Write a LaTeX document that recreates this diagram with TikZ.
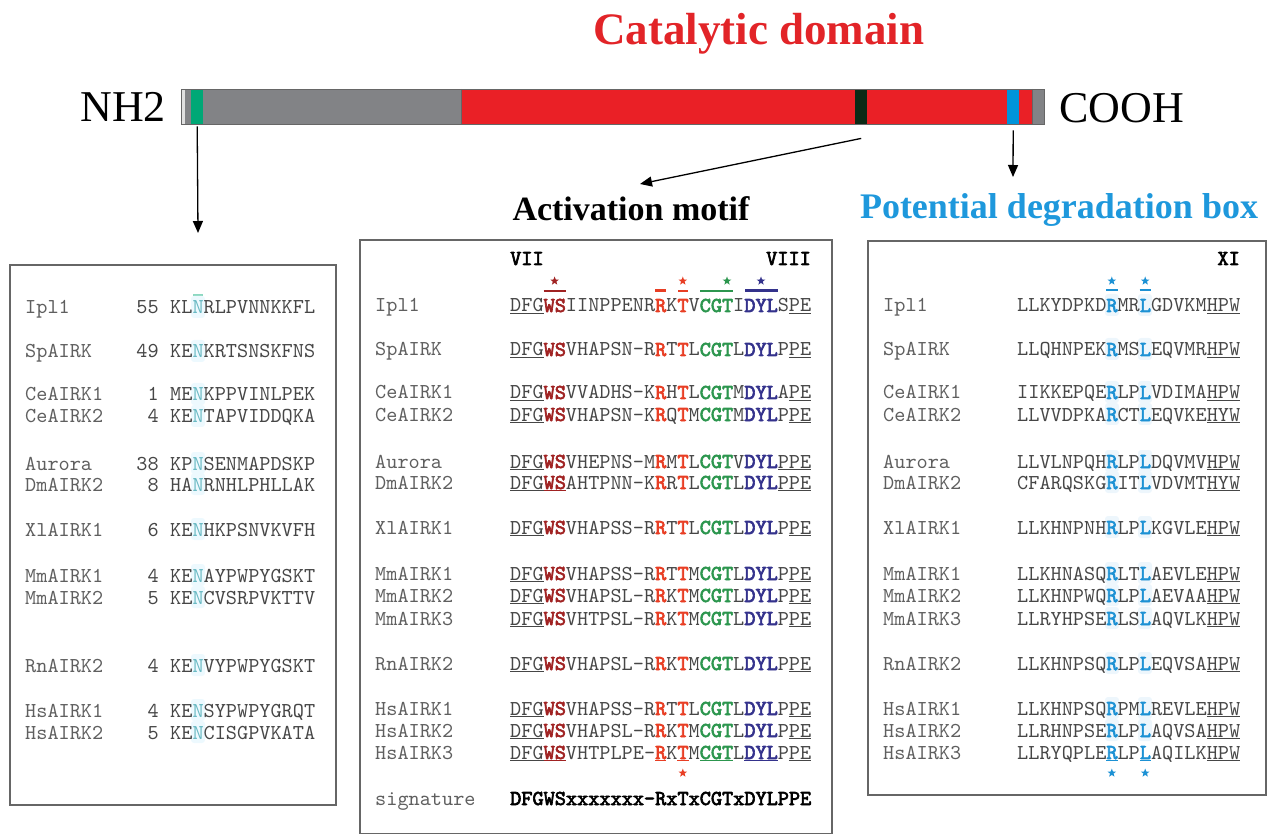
\documentclass[tikz,border=0pt]{standalone}
\usepackage{fontspec}
\setmainfont{Liberation Serif}
\setmonofont{lmmono10-regular.otf}[BoldFont=lmmono10-regular.otf, BoldFeatures={FakeBold=3}]
\usetikzlibrary{arrows.meta, positioning, shapes.geometric}

\definecolor{barred}{RGB}{234,32,38}
\definecolor{bargray}{RGB}{130,131,134}
\definecolor{bargreen}{RGB}{0,168,118}
\definecolor{bardark}{RGB}{12,42,22}
\definecolor{barblue}{RGB}{0,148,218}
\definecolor{titlered}{RGB}{226,36,40}
\definecolor{degblue}{RGB}{30,152,220}
\definecolor{seqgray}{RGB}{70,70,70}
\definecolor{namegray}{RGB}{95,95,95}
\definecolor{wsred}{RGB}{160,34,34}
\definecolor{rtred}{RGB}{232,62,36}
\definecolor{cgtgreen}{RGB}{44,150,78}
\definecolor{dylblue}{RGB}{52,50,140}
\definecolor{nteal}{RGB}{105,185,195}
\definecolor{rlblue}{RGB}{28,145,212}

\newcommand{\ulin}[1]{\underline{#1}}
\newcommand{\culin}[2]{\textcolor{#1}{\underline{\textbf{#2}}}}
\newcommand{\mWS}[1]{\textcolor{wsred}{\textbf{#1}}}
\newcommand{\mRT}[1]{\textcolor{rtred}{\textbf{#1}}}
\newcommand{\mCGT}[1]{\textcolor{cgtgreen}{\textbf{#1}}}
\newcommand{\mDYL}[1]{\textcolor{dylblue}{\textbf{#1}}}
\newcommand{\mRL}[1]{\textcolor{rlblue}{\textbf{#1}}}
\newcommand{\mN}[1]{\textcolor{nteal}{#1}}

\begin{document}
\begin{tikzpicture}[x=1pt, y=-1pt, font=\ttfamily\fontsize{21.24}{24}\selectfont]
		\tikzstyle{seqbox} = [draw=black!60, line width=1.4pt]
		\tikzstyle{nametxt} = [anchor=base west, inner sep=0pt, yshift=-1pt, text=namegray]
		\tikzstyle{seqtxt} = [anchor=base west, inner sep=0pt, yshift=-1pt, text=seqgray]
		\tikzstyle{numtxt} = [anchor=base east, inner sep=0pt, yshift=-1pt, text=seqgray]
		\tikzstyle{romantxt} = [inner sep=0pt, font=\ttfamily\bfseries\fontsize{21.24}{24}\selectfont]
		\tikzstyle{band} = [rectangle, inner sep=0pt, minimum width=12pt, minimum height=35pt, anchor=north west]
		\tikzstyle{motifstar} = [star, star points=5, star point ratio=2.4, inner sep=0pt, minimum size=9pt]
		\tikzstyle{arrow} = [line width=1.3pt, -{Triangle[length=12pt, width=10pt]}]
		
		\useasboundingbox (0,0) rectangle (1270,834);
		
		% protein bar
		\fill[bargray] (181,89) rectangle (1044,124);
		\fill[black!12] (181,89) rectangle (184.5,124);
		\fill[barred] (461,89) rectangle (1032,124);
		\node (ntband) [band, fill=bargreen] at (191,89) {};
		\node (actband) [band, fill=bardark] at (855,89) {};
		\node (degband) [band, fill=barblue] at (1007,89) {};
		\draw[black!60, line width=0.8pt] (181,89) rectangle (1044,124);
		\draw[black!60, line width=0.8pt] (461,89) -- (461,124) (1032,89) -- (1032,124);
		
		\node (nh) [anchor=base east, inner sep=0pt, font=\rmfamily\fontsize{44}{50}\selectfont] at (166,122) {NH2};
		\node (cooh) [anchor=base west, inner sep=0pt, font=\rmfamily\fontsize{44}{50}\selectfont] at (1059,123) {COOH};
		\node (catdom) [anchor=base west, inner sep=0pt, text=titlered, font=\rmfamily\bfseries\fontsize{45}{50}\selectfont] at (593,45) {Catalytic domain};
		\node (actmotif) [anchor=base, inner sep=0pt, font=\rmfamily\bfseries\fontsize{34}{40}\selectfont] at (631,221) {Activation motif};
		\node (degbox) [anchor=base, inner sep=0pt, text=degblue, font=\rmfamily\bfseries\fontsize{36}{40}\selectfont] at (1059,219) {Potential degradation box};
		
		\coordinate (ntend) at (198,233);
		\coordinate (actend) at (640,184);
		\coordinate (degend) at (1013,177);
		\draw[arrow] ([yshift=-2pt]ntband.south) -- (ntend);
		\draw[arrow] ([yshift=-14pt]actband.south) -- (actend);
		\draw[arrow] ([yshift=-6pt]degband.south) -- (degend);
		
		% alignment boxes
		\draw[seqbox] (10,265) rectangle (336,805);
		\draw[seqbox] (360,240) rectangle (832,833.3);
		\draw[seqbox] (868,241) rectangle (1266,795);
		
		% N-terminal box
		\draw[bargreen!45, line width=1.5pt] (193,295) -- (203,295);
		\foreach \y/\nm/\num/\pa/\pb in {313/Ipl1/55/KL/RLPVNNKKFL, 357/SpAIRK/49/KE/KRTSNSKFNS, 400/CeAIRK1/1/ME/KPPVINLPEK, 422/CeAIRK2/4/KE/TAPVIDDQKA, 469/Aurora/38/KP/SENMAPDSKP, 490/DmAIRK2/8/HA/RNHLPHLLAK, 535/XlAIRK1/6/KE/HKPSNVKVFH, 581/MmAIRK1/4/KE/AYPWPYGSKT, 603/MmAIRK2/5/KE/CVSRPVKTTV, 671/RnAIRK2/4/KE/VYPWPYGSKT, 716/HsAIRK1/4/KE/SYPWPYGRQT, 738/HsAIRK2/5/KE/CISGPVKATA}
		{
			\fill[cyan!7, rounded corners=3pt] (191,\y-17) rectangle (205,\y+5);
			\node (ln-\nm) [nametxt] at (25,\y) {\nm};
			\node (lk-\nm) [numtxt] at (159,\y) {\num};
			\node (ls-\nm) [seqtxt] at (170,\y) {\pa\mN{N}\pb};
		}
		
		% activation motif box
		\node (vii) [romantxt, anchor=base west] at (510,265) {VII};
		\node (viii) [romantxt, anchor=base east] at (811,265) {VIII};
		\node (st-ws) [motifstar, fill=wsred] at (554.6,281) {};
		\node (st-t) [motifstar, fill=rtred] at (682.8,281) {};
		\node (st-cgt) [motifstar, fill=cgtgreen] at (727,281) {};
		\node (st-dyl) [motifstar, fill=dylblue] at (761,281) {};
		\draw[wsred, line width=1.2pt] (543.5,291) -- (566,291);
		\draw[rtred, line width=3pt] (655,291) -- (666,291);
		\draw[rtred, line width=1.2pt] (678,291) -- (688,291);
		\draw[cgtgreen, line width=1.2pt] (700,291) -- (733,291);
		\draw[dylblue, line width=3pt] (745,291) -- (778,291);
		\foreach \y/\nm/\pa/\pb/\pc/\pd/\pe/\pf in {311/Ipl1/IINPPENR/K/V/I/S/PE, 355/SpAIRK/VHAPSN-R/T/L/L/P/PE, 398/CeAIRK1/VVADHS-K/H/L/M/A/PE, 420/CeAIRK2/VHAPSN-K/Q/M/M/P/PE, 467/Aurora/VHEPNS-M/M/L/V//PPE, 533/XlAIRK1/VHAPSS-R/T/L/L/P/PE, 579/MmAIRK1/VHAPSS-R/T/M/L/P/PE, 601/MmAIRK2/VHAPSL-R/K/M/L/P/PE, 624/MmAIRK3/VHTPSL-R/K/M/L/P/PE, 669/RnAIRK2/VHAPSL-R/K/M/L/P/PE, 714/HsAIRK1/VHAPSS-R/T/L/L/P/PE, 736/HsAIRK2/VHAPSL-R/K/M/L/P/PE}
		{
			\node (mn-\nm) [nametxt] at (375,\y) {\nm};
			\node (ms-\nm) [seqtxt] at (510,\y) {\ulin{DFG}\mWS{WS}\pa\mRT{R}\pb\mRT{T}\pc\mCGT{CGT}\pd\mDYL{DYL}\pe\ulin{\pf}};
		}
		\node (mn-DmAIRK2) [nametxt] at (375,488) {DmAIRK2};
		\node (ms-DmAIRK2) [seqtxt] at (510,488) {\ulin{DFG}\culin{wsred}{WS}AHTPNN-K\mRT{R}R\mRT{T}L\mCGT{CGT}L\mDYL{DYL}\ulin{PPE}};
		\node (mn-HsAIRK3) [nametxt] at (375,758) {HsAIRK3};
		\node (ms-HsAIRK3) [seqtxt] at (510,758) {\ulin{DFG}\culin{wsred}{WS}VHTPLPE-\culin{rtred}{R}K\culin{rtred}{T}M\culin{cgtgreen}{CGT}L\culin{dylblue}{DYL}P\ulin{PE}};
		\node (sb-t) [motifstar, fill=rtred] at (682.8,773) {};
		\node (mn-sig) [nametxt] at (375,804) {signature};
		\node (ms-sig) [seqtxt, text=black, font=\ttfamily\bfseries\fontsize{21.24}{24}\selectfont] at (510,804) {DFGWSxxxxxxx-RxTxCGTxDYLPPE};
		
		% degradation box
		\node (xi) [romantxt, anchor=base east] at (1240,265) {XI};
		\node (st-r) [motifstar, fill=rlblue] at (1111.8,281) {};
		\node (st-l) [motifstar, fill=rlblue] at (1145.2,281) {};
		\draw[rlblue, line width=1.2pt] (1106,290) -- (1117.5,290) (1139.5,290) -- (1151,290);
		\foreach \y/\nm/\pa/\pb/\pc/\pd in {311/Ipl1/LLKYDPKD/MR/GDVKM/HPW, 355/SpAIRK/LLQHNPEK/MS/EQVMR/HPW, 398/CeAIRK1/IIKKEPQE/LP/VDIMA/HPW, 420/CeAIRK2/LLVVDPKA/CT/EQVKE/HYW, 467/Aurora/LLVLNPQH/LP/DQVMV/HPW, 488/DmAIRK2/CFARQSKG/IT/VDVMT/HYW, 533/XlAIRK1/LLKHNPNH/LP/KGVLE/HPW, 579/MmAIRK1/LLKHNASQ/LT/AEVLE/HPW, 601/MmAIRK2/LLKHNPWQ/LP/AEVAA/HPW, 624/MmAIRK3/LLRYHPSE/LS/AQVLK/HPW, 669/RnAIRK2/LLKHNPSQ/LP/EQVSA/HPW, 714/HsAIRK1/LLKHNPSQ/PM/REVLE/HPW, 736/HsAIRK2/LLRHNPSE/LP/AQVSA/HPW}
		{
			\fill[rlblue!8, rounded corners=3pt] (1105,\y-17) rectangle (1119,\y+5);
			\fill[rlblue!8, rounded corners=3pt] (1138,\y-17) rectangle (1152,\y+5);
			\node (rn-\nm) [nametxt] at (883,\y) {\nm};
			\node (rs-\nm) [seqtxt] at (1017,\y) {\pa\mRL{R}\pb\mRL{L}\pc\ulin{\pd}};
		}
		\node (rn-HsAIRK3) [nametxt] at (883,758) {HsAIRK3};
		\node (rs-HsAIRK3) [seqtxt] at (1017,758) {LLRYQPLE\culin{rlblue}{R}LP\culin{rlblue}{L}AQILK\ulin{HPW}};
		\node (sb-r) [motifstar, fill=rlblue] at (1111.8,773) {};
		\node (sb-l) [motifstar, fill=rlblue] at (1145.2,773) {};
\end{tikzpicture}
\end{document}
